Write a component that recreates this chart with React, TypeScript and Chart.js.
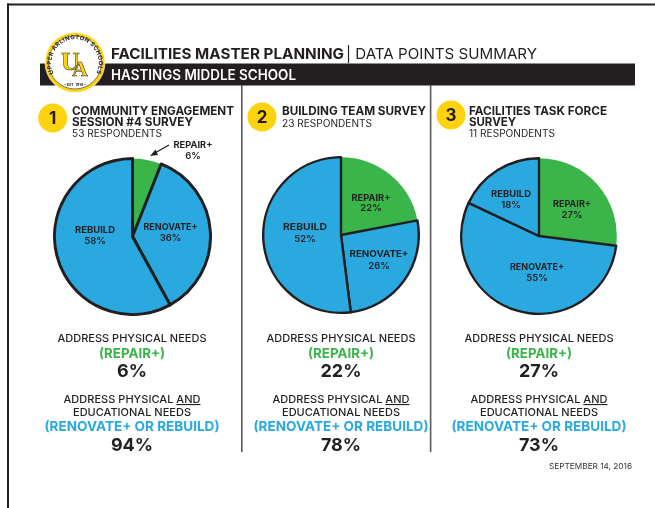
import React, { useEffect, useRef } from "react";
import { Chart, registerables } from "chart.js";

Chart.register(...registerables);

const categories = ["REPAIR+", "RENOVATE+", "REBUILD"];
const communityValues = [6, 36, 58];
const buildingTeamValues = [22, 26, 52];
const taskForceValues = [27, 55, 18];
const surveyTitles = [
  ["COMMUNITY ENGAGEMENT", "SESSION #4 SURVEY"],
  ["BUILDING TEAM SURVEY"],
  ["FACILITIES TASK FORCE", "SURVEY"],
];
const respondents = ["53 RESPONDENTS", "23 RESPONDENTS", "11 RESPONDENTS"];
const repairTotals = ["6%", "22%", "27%"];
const renovateRebuildTotals = ["94%", "78%", "73%"];

const FONT = "Inter, 'Open Sans', sans-serif";
const BLACK = "#231f20";
const BLUE = "#29a9e0";
const GREEN = "#3ab54a";
const YELLOW = "#fdd20e";

const COLS = [
  { cx: 132, cy: 236, values: communityValues, edge: 3, circle: [52.7, 118], tx: 72, titleW: [162, 121], respW: 90 },
  { cx: 341, cy: 235, values: buildingTeamValues, edge: 2.4, circle: [262, 117], tx: 282, titleW: [144], respW: 90 },
  { cx: 539, cy: 236, values: taskForceValues, edge: 2.4, circle: [451, 115], tx: 469, titleW: [138, 47], respW: 86 },
];

// label layout: [centerX, nameBaseline, valueBaseline, nameWidth] by category
const LABELS: number[][][] = [
  [[193, 148, 159, 39], [170.5, 230, 241, 54], [95, 233, 244, 40]],
  [[371, 201, 211, 39], [379, 257, 269, 59], [305, 230, 242, 44]],
  [[572, 207, 218, 38], [537, 270, 281, 54], [511, 197, 208, 40]],
];

function Pie({ col }: { col: (typeof COLS)[number] }) {
  const ref = useRef<HTMLCanvasElement>(null);
  useEffect(() => {
    const chart = new Chart(ref.current!, {
      type: "pie",
      data: {
        labels: categories,
        datasets: [
          {
            data: col.values,
            backgroundColor: [GREEN, BLUE, BLUE],
            borderColor: BLACK,
            borderWidth: [0, col.edge, col.edge],
            borderJoinStyle: "round",
          },
        ],
      },
      options: {
        animation: false,
        responsive: false,
        layout: { padding: 0 },
        plugins: { legend: { display: false }, tooltip: { enabled: false } },
      },
    });
    return () => chart.destroy();
  }, []);
  const size = 156 + col.edge;
  return (
    <canvas
      ref={ref}
      width={size}
      height={size}
      style={{ position: "absolute", left: col.cx - size / 2, top: col.cy - size / 2, width: size, height: size }}
    />
  );
}

function T(props: any) {
  const { x, y, w, size, weight = 400, fill = BLACK, anchor = "start", children } = props;
  return (
    <text
      x={x}
      y={y}
      fontSize={size}
      fontWeight={weight}
      fill={fill}
      textAnchor={anchor}
      textLength={w}
      lengthAdjust="spacingAndGlyphs"
    >
      {children}
    </text>
  );
}

function Logo() {
  return (
    <g>
      <circle cx={75} cy={62.5} r={30} fill={YELLOW} stroke="#fff" strokeWidth={0.6} />
      <circle cx={75} cy={62.5} r={26.5} fill="#fff" stroke={BLACK} strokeWidth={0.6} />
      <defs>
        <path id="logoArc" d="M 54.5 74.5 A 23.6 23.6 0 1 1 95.5 74.5" fill="none" />
      </defs>
      <text fontSize={6} fontWeight={700} fill={BLACK} letterSpacing={0.35}>
        <textPath href="#logoArc" startOffset="50%" textAnchor="middle">
          UPPER ARLINGTON SCHOOLS
        </textPath>
      </text>
      <text x={75} y={86} fontSize={3.6} fontWeight={700} fill={BLACK} textAnchor="middle">
        • EST. 1918 •
      </text>
      <text
        x={70.5}
        y={70}
        fontSize={26}
        fontWeight={700}
        fontFamily="'Liberation Serif', serif"
        fill={YELLOW}
        stroke={BLACK}
        strokeWidth={0.5}
        textAnchor="middle"
      >
        U
      </text>
      <text
        x={80}
        y={76}
        fontSize={22}
        fontWeight={700}
        fontFamily="'Liberation Serif', serif"
        fill={YELLOW}
        stroke={BLACK}
        strokeWidth={0.5}
        textAnchor="middle"
      >
        A
      </text>
    </g>
  );
}

export default function App() {
  useEffect(() => {
    document.body.style.margin = "0";
  }, []);
  return (
    <div style={{ position: "absolute", left: 0, top: 0, width: 655, height: 508, background: "#fff", overflow: "hidden" }}>
      {COLS.map((c, i) => (
        <Pie key={i} col={c} />
      ))}
      <svg
        width={655}
        height={508}
        style={{ position: "absolute", left: 0, top: 0, fontFamily: FONT }}
      >
        <rect x={7} y={3.5} width={648} height={2} fill={BLACK} />
        <rect x={7} y={3.5} width={2} height={505} fill={BLACK} />
        <rect x={40} y={63.5} width={595} height={22} fill={BLACK} />
        <rect x={241} y={85} width={1.6} height={367} fill="#58595b" />
        <rect x={429.8} y={85} width={1.6} height={367} fill="#58595b" />

        <T x={111} y={59} size={15} weight={700} w={233}>FACILITIES MASTER PLANNING</T>
        <T x={346} y={59} size={15} weight={400} w={191}>| DATA POINTS SUMMARY</T>
        <T x={111} y={79.5} size={14} weight={600} fill="#fff" w={185}>HASTINGS MIDDLE SCHOOL</T>
        <Logo />

        {COLS.map((c, i) => (
          <g key={i}>
            <circle cx={c.circle[0]} cy={c.circle[1]} r={14.5} fill={YELLOW} />
            <T x={c.circle[0]} y={c.circle[1] + 6} size={17} weight={700} anchor="middle">{i + 1}</T>
            {surveyTitles[i].map((line, k) => (
              <T key={k} x={c.tx} y={115 + k * 11} size={12} weight={700} w={c.titleW[k]}>{line}</T>
            ))}
            <T x={c.tx} y={surveyTitles[i].length === 2 ? 137 : 127} size={10} w={c.respW}>{respondents[i]}</T>

            {categories.map((name, k) => {
              const [lx, y1, y2, lw] = LABELS[i][k];
              return (
                <g key={name}>
                  <T x={lx} y={y1} size={9} weight={700} anchor="middle" w={lw}>{name}</T>
                  <T x={lx} y={y2} size={9.5} weight={600} anchor="middle">{c.values[k]}%</T>
                </g>
              );
            })}

            <T x={c.cx} y={342} size={11} weight={500} anchor="middle" w={149}>ADDRESS PHYSICAL NEEDS</T>
            <T x={c.cx} y={357.5} size={13.5} weight={700} fill={GREEN} anchor="middle" w={66}>(REPAIR+)</T>
            <T x={c.cx} y={377} size={18} weight={700} anchor="middle">{repairTotals[i]}</T>
            <T x={c.cx} y={403} size={11} weight={500} anchor="middle" w={137}>
              ADDRESS PHYSICAL <tspan textDecoration="underline">AND</tspan>
            </T>
            <T x={c.cx} y={415.5} size={11} weight={500} anchor="middle" w={118}>EDUCATIONAL NEEDS</T>
            <T x={c.cx} y={431} size={13.5} weight={700} fill={BLUE} anchor="middle" w={175}>(RENOVATE+ OR REBUILD)</T>
            <T x={c.cx} y={451} size={18} weight={700} anchor="middle">{renovateRebuildTotals[i]}</T>
          </g>
        ))}

        <line x1={169} y1={145} x2={154} y2={153.5} stroke={BLACK} strokeWidth={1.4} />
        <polygon points="150,156 155.5,149.5 158,155" fill={BLACK} />
        <T x={549} y={469} size={8} w={83} fill="#333">SEPTEMBER 14, 2016</T>
      </svg>
    </div>
  );
}
